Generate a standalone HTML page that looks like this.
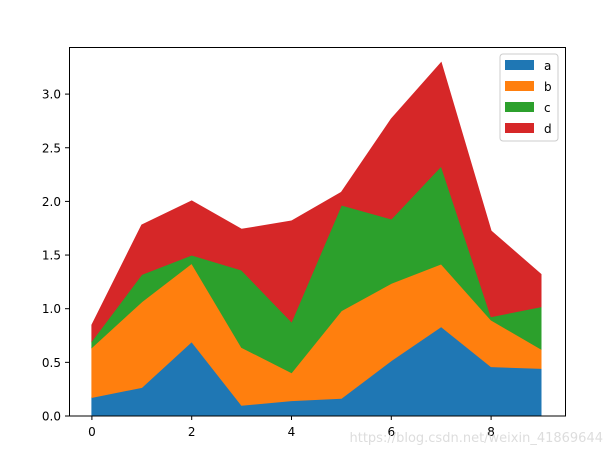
<!DOCTYPE html>
<html><head><meta charset="utf-8"><style>
body{margin:0;background:#fff;font-family:"Liberation Sans","DejaVu Sans",sans-serif}
svg text{font-family:"DejaVu Sans","Liberation Sans",sans-serif}
</style></head><body>
<svg id="chart" width="612" height="455" xmlns="http://www.w3.org/2000/svg">
<rect width="612" height="455" fill="#fff"/>
<g id="areas"></g>
<rect x="69.5" y="47.5" width="496" height="368.5" fill="none" stroke="#000" stroke-width="1"/>
<g id="xticks"></g><g id="yticks"></g>
<g>
<rect x="500" y="54" width="58" height="87" rx="3" fill="#fff" fill-opacity="0.8" stroke="#ccc"/>
<g id="legend-items"></g>
</g>
<text x="603" y="442" text-anchor="end" font-size="13" fill="#ddd">https://blog.csdn.net/weixin_41869644</text>
</svg>
<script>
const xs=[0,1,2,3,4,5,6,7,8,9];
const seriesA=[0.174,0.267,0.693,0.10,0.143,0.165,0.516,0.833,0.46,0.444];
const seriesB=[0.466,0.798,0.73,0.54,0.261,0.816,0.721,0.584,0.435,0.18];
const seriesC=[0.06,0.255,0.077,0.72,0.475,0.985,0.599,0.913,0.031,0.395];
const seriesD=[0.148,0.46,0.504,0.38,0.938,0.119,0.932,0.963,0.798,0.301];
const seriesNames=["a","b","c","d"];
const colors=["#1f77b4","#ff7f0e","#2ca02c","#d62728"];
const xTicks=[0,2,4,6,8];
const yTicks=[0,0.5,1,1.5,2,2.5,3];
const NS="http://www.w3.org/2000/svg";
const X=v=>91.9+v*49.9, Y=v=>416-v*107.3;
const all=[seriesA,seriesB,seriesC,seriesD];
let base=xs.map(()=>0);
const areas=document.getElementById('areas');
all.forEach((s,i)=>{
  const top=base.map((b,j)=>b+s[j]);
  const pts=xs.map((x,j)=>X(x)+','+Y(top[j])).concat(xs.slice().reverse().map((x,k)=>{const j=xs.length-1-k;return X(x)+','+Y(base[j]);}));
  const p=document.createElementNS(NS,'polygon');
  p.setAttribute('points',pts.join(' '));
  p.setAttribute('fill',colors[i]);p.setAttribute('stroke',colors[i]);p.setAttribute('stroke-width','1');
  
  
  areas.appendChild(p);
  base=top;
});
const xt=document.getElementById('xticks');
xTicks.forEach(t=>{
  const l=document.createElementNS(NS,'line');
  l.setAttribute('x1',X(t));l.setAttribute('x2',X(t));l.setAttribute('y1',416);l.setAttribute('y2',420);l.setAttribute('stroke','#000');
  
  
  xt.appendChild(l);
  const tx=document.createElementNS(NS,'text');
  tx.setAttribute('x',X(t));tx.setAttribute('y',436);tx.setAttribute('text-anchor','middle');tx.setAttribute('font-size','12');
  tx.textContent=t;
  
  
  xt.appendChild(tx);
});
const yt=document.getElementById('yticks');
yTicks.forEach(t=>{
  const l=document.createElementNS(NS,'line');
  l.setAttribute('x1',65);l.setAttribute('x2',69.5);l.setAttribute('y1',Y(t));l.setAttribute('y2',Y(t));l.setAttribute('stroke','#000');
  
  
  yt.appendChild(l);
  const tx=document.createElementNS(NS,'text');
  tx.setAttribute('x',61);tx.setAttribute('y',Y(t)+4.5);tx.setAttribute('text-anchor','end');tx.setAttribute('font-size','12');
  tx.textContent=t.toFixed(1);
  
  
  yt.appendChild(tx);
});
const lg=document.getElementById('legend-items');
seriesNames.forEach((n,i)=>{
  const r=document.createElementNS(NS,'rect');
  r.setAttribute('x',505);r.setAttribute('y',60+i*21);r.setAttribute('width',29);r.setAttribute('height',10);r.setAttribute('fill',colors[i]);
  
  
  lg.appendChild(r);
  const tx=document.createElementNS(NS,'text');
  tx.setAttribute('x',544);tx.setAttribute('y',70+i*21);tx.setAttribute('font-size','12');
  tx.textContent=n;
  
  
  lg.appendChild(tx);
});
</script>
</body></html>
